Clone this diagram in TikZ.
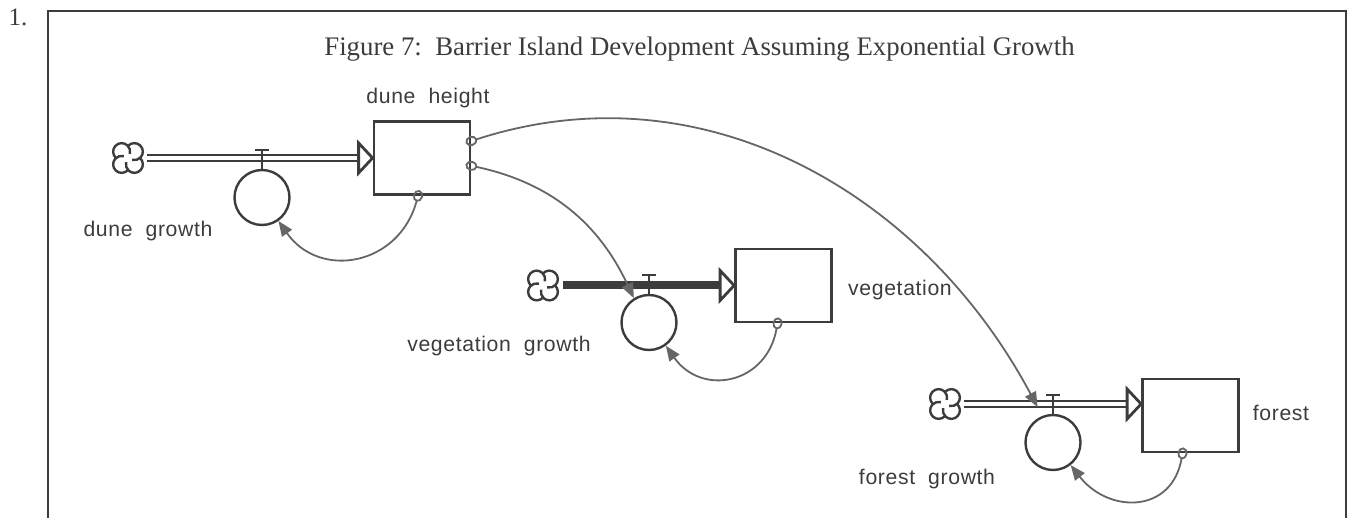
\documentclass[tikz,border=0pt]{standalone}
\usepackage{fontspec}
\setmainfont{Liberation Serif}
\newfontfamily\labelfont[LetterSpace=3,WordSpace=2]{Liberation Sans}
\usetikzlibrary{arrows.meta,positioning}
\definecolor{ink}{HTML}{3C3C3C}
\definecolor{linkgray}{HTML}{666666}
\tikzset{
  stock/.style = {draw=ink, line width=1.4pt, minimum width=48pt, minimum height=36.5pt, inner sep=0pt},
  aux/.style = {circle, draw=ink, line width=1.2pt, minimum size=27.5pt, inner sep=0pt},
  lbl/.style = {font=\labelfont\fontsize{10.6}{12}\selectfont, text=ink, inner sep=0pt, anchor=base},
  pipe/.style = {draw=ink, double, double distance=1.6pt, line width=1.2pt},
  solidpipe/.style = {pipe, double=ink},
  pipetip/.style = {draw=ink, fill=white, line width=1.4pt, line join=miter},
  valve/.style = {draw=ink, line width=1.2pt},
  link/.style = {draw=linkgray, line width=0.9pt, shorten <=-3pt,
    arrows={Circle[open,length=6pt,width=5pt]-Triangle[length=7.5pt,width=6pt]}},
  cloudsym/.pic = {
    \foreach \a in {45,135,225,315}
      \draw[ink, line width=1.2pt] (\a:9) ++(\a-93.6:8.5) arc[start angle=\a-93.6, end angle=\a+150, radius=8.5];
  }
}
\begin{document}
\begin{tikzpicture}[x=0.5pt, y=-0.5pt]
\useasboundingbox (0,0) rectangle (1351,518);
% frame and title
\draw[ink, line width=1.2pt] (48,518) -- (48,11) -- (1346,11) -- (1346,518);
\node[anchor=base, font=\fontsize{12.5}{14}\selectfont, text=ink, inner sep=0pt] (num) at (18,26) {1.};
\node[anchor=base, font=\fontsize{13.4}{15}\selectfont, text=ink, inner sep=0pt] (title) at (699.5,56)
  {Figure 7:\ \ Barrier Island Development Assuming Exponential Growth};

% stocks
\node[stock] (dh) at (422,158) {};
\node[stock] (veg) at (783.5,285.5) {};
\node[stock] (forest) at (1190.5,415.5) {};

% sources
\coordinate (dcloud) at (128,158);
\coordinate (vcloud) at (543,285.5);
\coordinate (fcloud) at (945,404);
\pic at (dcloud) {cloudsym};
\pic at (vcloud) {cloudsym};
\pic at (fcloud) {cloudsym};
\coordinate (fin) at ([yshift=5.75pt]forest.west);

% flows
\draw[pipe] ([xshift=9.5pt]dcloud) -- ([xshift=-7pt]dh.west);
\draw[pipetip] (dh.west) -- ++(-14,-15) -- ++(0,30) -- cycle;
\draw[solidpipe] ([xshift=10pt]vcloud) -- ([xshift=-7pt]veg.west);
\draw[pipetip] (veg.west) -- ++(-14,-15) -- ++(0,30) -- cycle;
\draw[pipe] ([xshift=9.5pt]fcloud) -- ([xshift=-7pt]fin);
\draw[pipetip] (fin) -- ++(-14,-15) -- ++(0,30) -- cycle;

% rates
\node[aux] (dg) at (262,197.5) {};
\node[aux] (vg) at (649,322.5) {};
\node[aux] (fg) at (1053,442.5) {};
\foreach \v in {dg,vg,fg}{
  \draw[valve] (\v.north) -- ++(0,-19) coordinate (\v t);
  \draw[valve] ([xshift=-3.5pt]\v t) -- ([xshift=3.5pt]\v t);
}

% labels
\node[lbl] (dhl) at (428,104) {dune height};
\node[lbl] (dgl) at (148,237) {dune growth};
\node[lbl] (vegl) at (900,296) {vegetation};
\node[lbl] (vgl) at (499,351.5) {vegetation growth};
\node[lbl] (fl) at (1281,420.5) {forest};
\node[lbl] (fgl) at (927,485) {forest growth};

% links
\draw[link] ([xshift=-2pt]dh.south) to[out=-105, in=-55, looseness=1.3] (dg.-55);
\draw[link] (dh.-9) to[out=-12, in=115] (vg.122);
\draw[link, shorten >=5pt] (dh.19) to[out=18, in=118] (fg.112);
\draw[link] ([xshift=-3pt]veg.south) to[out=-100, in=-55, looseness=1.4] (vg.-54);
\draw[link] ([xshift=-4pt]forest.south) to[out=-100, in=-52, looseness=1.4] (fg.-52);
\end{tikzpicture}
\end{document}
